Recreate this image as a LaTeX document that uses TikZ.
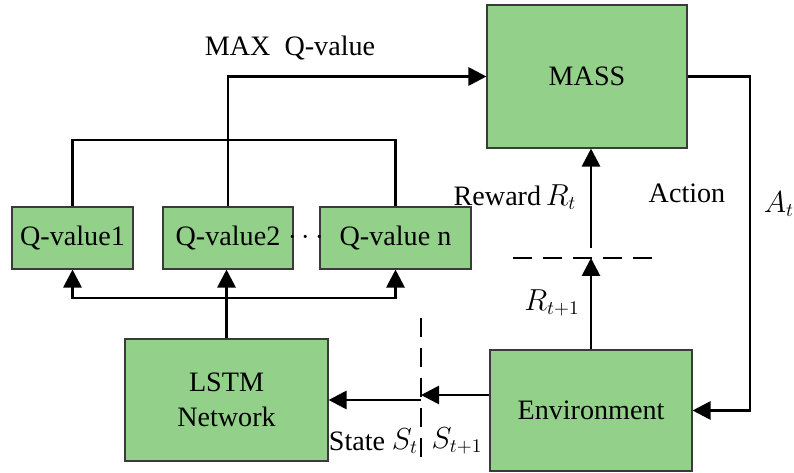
\documentclass[tikz,border=0pt]{standalone}
\usepackage{fontspec}
\setmainfont{Liberation Serif}
\usetikzlibrary{arrows.meta}
\usepackage{xcolor}
\definecolor{boxgreen}{HTML}{93D18A}
\definecolor{boxline}{HTML}{3A3A3A}

\tikzset{
  block/.style={draw=boxline, line width=0.6pt, fill=boxgreen, align=center,
    inner sep=0pt, font=\fontsize{16}{20}\selectfont},
  wire/.style={line width=1.6pt, line join=miter},
  tip/.style={-{Triangle[length=0.36cm,width=0.36cm]}},
  cut/.style={line width=1.6pt, dash pattern=on 0.38cm off 0.22cm},
  lbl/.style={font=\fontsize{16}{20}\selectfont, inner sep=0pt}
}

\begin{document}
\begin{tikzpicture}
  \useasboundingbox (0,0) rectangle (15.88,9.44);
  % Blocks
  \node[block, minimum width=4.0cm, minimum height=2.86cm] (mass) at (11.74,7.91) {MASS};
  \node[block, minimum width=2.42cm, minimum height=1.24cm] (q1) at (1.45,4.68) {Q-value1};
  \node[block, minimum width=2.6cm, minimum height=1.24cm] (q2) at (4.56,4.68) {Q-value2};
  \node[block, minimum width=3.02cm, minimum height=1.24cm] (qn) at (7.91,4.68) {Q-value n};
  \node[block, minimum width=4.06cm, minimum height=2.44cm] (lstm) at (4.53,1.44) {LSTM\\Network};
  \node[block, minimum width=4.04cm, minimum height=2.42cm] (env) at (11.82,1.23) {Environment};
  % Helper points
  \coordinate (topbus) at (0,6.64);
  \coordinate (botbus) at (0,3.48);
  \coordinate (rside) at (15.0,0);
  \coordinate (rdash) at (10.26,4.28);
  \coordinate (rdashend) at (13.04,4.28);
  \coordinate (sdash) at (8.42,3.08);
  \coordinate (sdashend) at (8.42,0.14);
  % Q-values to MASS
  \draw[wire] (q1.north) |- (topbus -| qn.north) -- (qn.north);
  \draw[wire, tip] (q2.north) |- (mass.west);
  % LSTM to Q-values
  \draw[wire, tip] (lstm.north) -- (lstm.north |- q2.south);
  \draw[wire, {Triangle[length=0.36cm,width=0.36cm]}-{Triangle[length=0.36cm,width=0.36cm]}]
    (q1.south) |- (botbus -| qn.south) -- (qn.south);
  % Action
  \draw[wire, tip] (mass.east) -- (mass.east -| rside) |- (env.east);
  % Reward
  \draw[cut] (rdash) -- (rdashend);
  \draw[wire, tip] (env.north) -- (env.north |- rdash);
  \draw[wire, tip] ([yshift=0.2cm]env.north |- rdash) -- (env.north |- mass.south);
  % State
  \draw[cut] (sdash) -- (sdashend);
  \draw[wire, tip] ([yshift=0.31cm]env.west) -- ([yshift=0.31cm]env.west -| sdash);
  \draw[wire, tip] (sdash |- lstm.east) -- (lstm.east);
  % Labels
  \node[lbl] (dotlbl) at (6.12,4.68) {$\cdots$};
  \node[lbl] (maxq) at (5.8,8.48) {MAX\ \ Q-value};
  \node[lbl] (reward) at (10.3,5.5) {Reward\,$R_t$};
  \node[lbl] (action) at (13.74,5.58) {Action};
  \node[lbl] (at) at (15.58,5.36) {$A_t$};
  \node[lbl] (rnext) at (11.04,3.38) {$R_{t+1}$};
  \node[lbl] (state) at (7.14,0.62) {State};
  \node[lbl] (st) at (8.1,0.62) {$S_t$};
  \node[lbl] (snext) at (9.14,0.62) {$S_{t+1}$};
\end{tikzpicture}
\end{document}
